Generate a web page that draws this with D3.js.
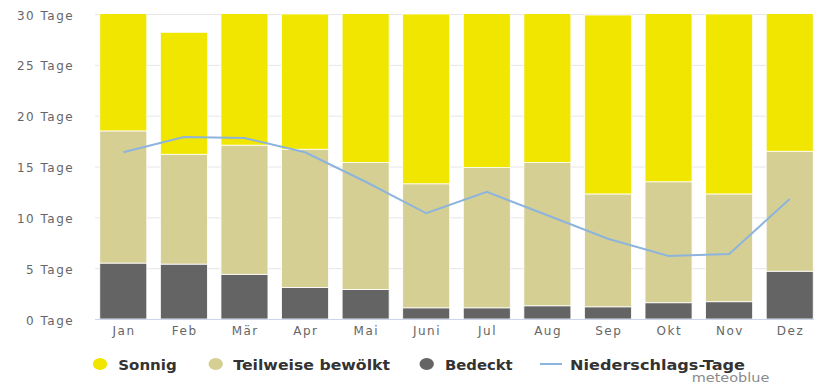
<!DOCTYPE html>
<html><head><meta charset="utf-8">
<script src="https://cdn.jsdelivr.net/npm/d3@7"></script>
<style>body{margin:0;background:#fff}svg{display:block}</style>
</head><body>
<svg id="c" width="814" height="385"></svg>
<script>
const months = ["Jan","Feb","Mär","Apr","Mai","Juni","Jul","Aug","Sep","Okt","Nov","Dez"];
const bedeckt   = [5.5, 5.4, 4.4, 3.1, 2.9, 1.1, 1.1, 1.3, 1.2, 1.6, 1.7, 4.7];
const teilweise = [13.0, 10.8, 12.7, 13.6, 12.5, 12.2, 13.8, 14.1, 11.1, 11.9, 10.6, 11.8];
const sonnig    = [12.5, 12.0, 13.9, 13.3, 15.6, 16.7, 16.1, 15.6, 17.6, 17.5, 17.7, 14.5];
const niederschlag = [16.4, 17.9, 17.8, 16.4, 13.5, 10.4, 12.5, 10.2, 7.9, 6.2, 6.4, 11.8];
const yTicks = [0, 5, 10, 15, 20, 25, 30];
const seriesNames = ["Bedeckt", "Teilweise bewölkt", "Sonnig"];
const legendNames = ["Sonnig", "Teilweise bewölkt", "Bedeckt", "Niederschlags-Tage"];
const colors = {"Sonnig":"#f1e600","Teilweise bewölkt":"#d6cf94","Bedeckt":"#646464","Niederschlags-Tage":"#8db4dc"};

const svg = d3.select("#c");
const x = d3.scaleBand().domain(months).range([93, 820]).paddingInner(0.224).paddingOuter(0.112);
const y = d3.scaleLinear().domain([0, 30]).range([319, 14]);

svg.append("defs").append("clipPath").attr("id","clip")
  .append("rect").attr("x",90).attr("y",y(30)).attr("width",730).attr("height",y(0)-y(30));

const axisFont = sel => sel.attr("fill","#666")
  .style("font-family","DejaVu Sans").style("font-size","12px").style("letter-spacing","1.5px");

// grid + y labels
const yAxis = d3.axisLeft(y).tickValues(yTicks).tickSize(-(814-95)).tickFormat(d => d + " Tage");
const gy = svg.append("g").attr("transform","translate(95,0)").call(yAxis);
gy.select(".domain").remove();
gy.selectAll(".tick line").attr("stroke","#e6e6e6");
gy.selectAll(".tick text").attr("x",-20.8).attr("dy","0.42em").call(axisFont);

// stacked bars
const rows = months.map((m,i)=>({month:m, "Bedeckt":bedeckt[i], "Teilweise bewölkt":teilweise[i], "Sonnig":sonnig[i]}));
const stack = d3.stack().keys(seriesNames)(rows);
const gBars = svg.append("g").attr("clip-path","url(#clip)");
gBars.selectAll("g").data(stack).join("g").attr("fill", d => colors[d.key])
  .selectAll("rect").data(d => d).join("rect")
  .attr("x", d => x(d.data.month)).attr("width", x.bandwidth())
  .attr("y", d => y(d[1])).attr("height", d => y(d[0]) - y(d[1]))
  .attr("stroke","#fff").attr("stroke-width",0.8);

// x axis
const xAxis = d3.axisBottom(x).tickSize(0).tickPadding(7);
const gx = svg.append("g").attr("transform",`translate(0,${y(0)})`).call(xAxis);
gx.select(".domain").attr("stroke","#ccd6eb").attr("d","M95,0.5H814");
gx.selectAll(".tick text").attr("x",0.75).call(axisFont);

// line
const line = d3.line().x((d,i)=>x(months[i]) + x.bandwidth()/2).y(d=>y(d));
svg.append("path").datum(niederschlag).attr("d",line).attr("fill","none")
  .attr("stroke",colors["Niederschlags-Tage"]).attr("stroke-width",2);

// legend
const legendLayout = [
  {type:"dot", cx:100, tx:118.3, w:58.4},
  {type:"dot", cx:215.7, tx:233.3, w:156.7},
  {type:"dot", cx:426.7, tx:445, w:67.7},
  {type:"line", cx:551, tx:570, w:175}
];
const gl = svg.append("g");
legendNames.forEach((name, i) => {
  const l = legendLayout[i];
  if (l.type === "dot") {
    gl.append("ellipse").attr("cx",l.cx).attr("cy",364).attr("rx",7.2).attr("ry",6).attr("fill",colors[name]);
  } else {
    gl.append("line").attr("x1",l.cx-11).attr("x2",l.cx+11).attr("y1",364).attr("y2",364)
      .attr("stroke",colors[name]).attr("stroke-width",2);
  }
  gl.append("text").attr("x",l.tx).attr("y",370).text(name)
    .attr("textLength",l.w).attr("lengthAdjust","spacingAndGlyphs")
    .attr("fill","#333").style("font-family","DejaVu Sans").style("font-weight","bold").style("font-size","13.5px");
});
svg.append("text").attr("x",691.7).attr("y",382).text("meteoblue")
  .attr("textLength",77.6).attr("lengthAdjust","spacingAndGlyphs")
  .attr("fill","#8a8a8a").style("font-family","DejaVu Sans").style("font-size","12.5px");
</script>
</body></html>
